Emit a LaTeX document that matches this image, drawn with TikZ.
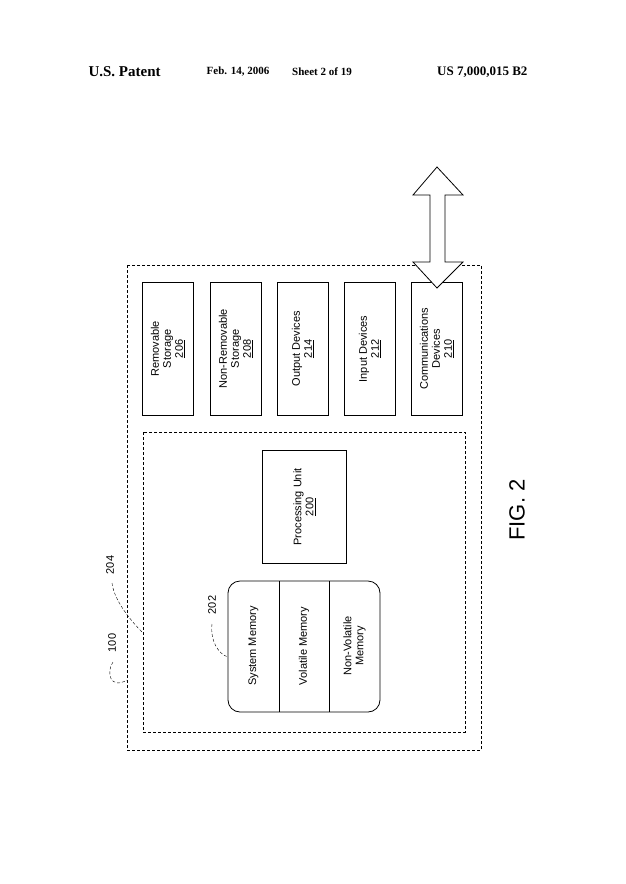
\documentclass[tikz,border=0pt]{standalone}
\usepackage{fontspec}
\setmainfont{Liberation Sans}
\newfontfamily\tms{Liberation Serif}
\begin{document}
\begin{tikzpicture}[x=1pt,y=-1pt,
  box/.style={draw,thick,inner sep=0},
  dbox/.style={draw,densely dashed,thick},
  lab/.style={rotate=90,font=\fontsize{11}{12}\selectfont,align=center},
  lead/.style={densely dashed,thin}]
\useasboundingbox (0,0) rectangle (625,884);
\node[font=\tms\bfseries\fontsize{15}{16}\selectfont,anchor=west] (h1) at (85,72) {U.S. Patent};
\node[font=\tms\bfseries\fontsize{11}{12}\selectfont] (h2) at (238,72) {Feb. 14, 2006};
\node[font=\tms\bfseries\fontsize{11}{12}\selectfont] (h3) at (322,72) {Sheet 2 of 19};
\node[font=\tms\bfseries\fontsize{13}{14}\selectfont,anchor=east] (h4) at (531,72) {US 7,000,015 B2};
\draw[dbox] (127,265) rectangle (481,750);
\draw[dbox] (143,432) rectangle (465,732);
\coordinate (o) at (127,680);
\coordinate (i) at (143,633);
\foreach \x/\n/\t in {142/rs/{Removable\\Storage\\\underline{206}},210/nrs/{Non-Removable\\Storage\\\underline{208}},277/od/{Output Devices\\\underline{214}},344/id/{Input Devices\\\underline{212}},411/cd/{Communications\\Devices\\\underline{210}}}
  \node[box,minimum width=51,minimum height=133,anchor=north west] (\n) at (\x,282) {};
\foreach \n/\t in {rs/{Removable\\Storage\\\underline{206}},nrs/{Non-Removable\\Storage\\\underline{208}},od/{Output Devices\\\underline{214}},id/{Input Devices\\\underline{212}},cd/{Communications\\Devices\\\underline{210}}}
  \node[lab] at (\n) {\t};
\draw[thick,fill=white] (430,195) -- (413,195) -- (437,167) -- (463,195) -- (445,195) -- (445,262) -- (463,262) -- (437,288) -- (413,262) -- (430,262) -- cycle;
\node[box,minimum width=84,minimum height=113,anchor=north west] (pu) at (262,450) {};
\node[lab] at (pu) {Processing Unit\\\underline{200}};
\draw[thick,rounded corners=12] (228,581) rectangle (380,712);
\node[minimum width=152,minimum height=131,anchor=north west,inner sep=0] (mem) at (228,581) {};
\draw[thick] (279,581) -- (279,712) (329,581) -- (329,712);
\node[lab] at (253.5,646) {System Memory};
\node[lab] at (304,646) {Volatile Memory};
\node[lab] at (354.5,646) {Non-Volatile\\Memory};
\node[lab] (l100) at (112,643) {100};
\node[lab] (l204) at (110,565) {204};
\node[lab] (l202) at (212,605) {202};
\draw[lead] (113,662) .. controls (106,672) and (110,690) .. (o);
\draw[lead] (112,583) .. controls (114,600) and (130,620) .. (i);
\draw[lead] (212,624) .. controls (210,640) and (218,654) .. (228,657);
\node[rotate=90,font=\fontsize{22}{24}\selectfont] (fig) at (517,510) {FIG. 2};
\end{tikzpicture}
\end{document}
